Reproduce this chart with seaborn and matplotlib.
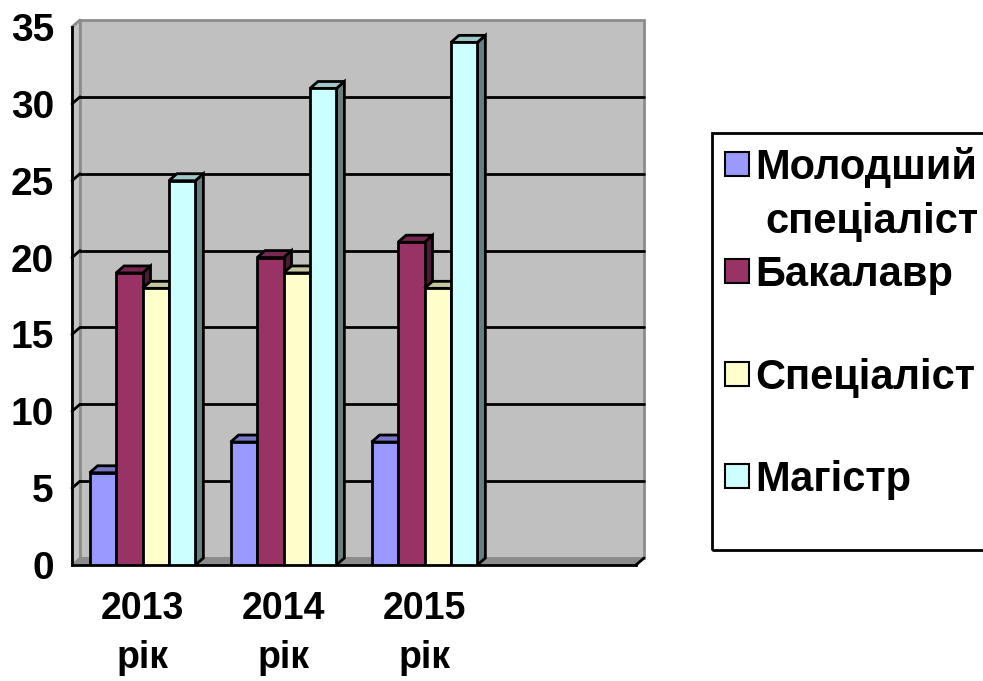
import pandas as pd
import matplotlib
matplotlib.use('Agg')
import matplotlib.pyplot as plt
import seaborn as sns
from matplotlib.patches import Polygon, Rectangle
from matplotlib.colors import to_rgb

# ............................................................DATOS..................................................
anios = ['2013\nрік', '2014\nрік', '2015\nрік']
niveles = ['Молодший спеціаліст', 'Бакалавр', 'Спеціаліст', 'Магістр']
molodshyi = [6, 8, 8]
bakalavr = [19, 20, 21]
spetsialist = [18, 19, 18]
magistr = [25, 31, 34]
colores = ['#9999FF', '#993366', '#FFFFCC', '#CCFFFF']

filas = []
for nivel, valores in zip(niveles, [molodshyi, bakalavr, spetsialist, magistr]):
    for anio, v in zip(anios, valores):
        filas.append({'anio': anio, 'nivel': nivel, 'valor': v})
df = pd.DataFrame(filas)

# ............................................................ESTILO.................................................
sns.set_style('white')
plt.rcParams['font.family'] = ['Liberation Sans', 'DejaVu Sans']
plt.rcParams['font.weight'] = 'bold'
plt.rcParams['text.color'] = 'black'
plt.rcParams['xtick.color'] = 'black'
plt.rcParams['ytick.color'] = 'black'
plt.rcParams['xtick.labelcolor'] = 'black'
plt.rcParams['ytick.labelcolor'] = 'black'

W, H = 983, 681
fig = plt.figure(figsize=(W / 100, H / 100), dpi=100)
ax = fig.add_axes([72 / W, 116 / H, 564 / W, 538 / H])

sns.barplot(data=df, x='anio', y='valor', hue='nivel', order=anios, hue_order=niveles,
            palette=colores, saturation=1, width=0.75, edgecolor='black', linewidth=2,
            legend=False, ax=ax)
barras = list(ax.patches)

ax.set_xlim(-0.5, 3.5)
ax.set_ylim(0, 35)

# profundidad 3D en unidades de datos (8 px a la derecha, 7 px arriba)
bb = ax.get_window_extent()
dx = 8 / (bb.width / 4)
dy = 7 / (bb.height / 35)

# pared del fondo, pared lateral y suelo
ax.add_patch(Rectangle((-0.5 + dx, dy), 4, 35, facecolor='#C0C0C0', edgecolor='#8C8C8C',
                       lw=2, zorder=0.2, clip_on=False))
ax.add_patch(Polygon([(-0.5, 0), (-0.5 + dx, dy), (-0.5 + dx, 35 + dy), (-0.5, 35)],
                     facecolor='#C4C4C4', edgecolor='#8C8C8C', lw=1.5, zorder=0.3, clip_on=False))
ax.add_patch(Polygon([(-0.5, 0), (3.5, 0), (3.5 + dx, dy), (-0.5 + dx, dy)],
                     facecolor='#8C8C8C', edgecolor='#8C8C8C', lw=1, zorder=0.3, clip_on=False))
for v in range(5, 35, 5):
    ax.plot([-0.5 + dx, 3.5 + dx], [v + dy, v + dy], color='black', lw=2, zorder=1, clip_on=False)
    ax.plot([-0.5, -0.5 + dx], [v, v + dy], color='black', lw=2, zorder=1, clip_on=False)
ax.plot([-0.5, -0.5 + dx], [35, 35 + dy], color='#8C8C8C', lw=2, zorder=1, clip_on=False)
ax.plot([3.5, 3.5 + dx], [0, dy], color='black', lw=2, zorder=1, clip_on=False)


def oscurecer(c, f):
    r, g, b = to_rgb(c)
    return (r * f, g * f, b * f)


# caras superiores y laterales de las barras
for i, p in enumerate(sorted(barras, key=lambda b: b.get_x())):
    x0, w, h = p.get_x(), p.get_width(), p.get_height()
    c = p.get_facecolor()
    tapa = Polygon([(x0, h), (x0 + w, h), (x0 + w + dx, h + dy), (x0 + dx, h + dy)],
                   facecolor=oscurecer(c, 0.78), edgecolor='black', lw=2, zorder=3 + 2 * i)
    lado = Polygon([(x0 + w, 0), (x0 + w + dx, dy), (x0 + w + dx, h + dy), (x0 + w, h)],
                   facecolor=oscurecer(c, 0.5), edgecolor='black', lw=2, zorder=3 + 2 * i)
    ax.add_patch(lado)
    ax.add_patch(tapa)
    p.set_zorder(4 + 2 * i)

# ............................................................EJES...................................................
sns.despine(ax=ax)
for s in ['left', 'bottom']:
    ax.spines[s].set_linewidth(2)
    ax.spines[s].set_color('black')

ax.set_yticks(range(0, 36, 5))
ax.tick_params(axis='y', length=10, width=2, pad=3, labelsize=28, color='black')
ax.set_xticks([0, 1, 2])
ax.set_xticklabels(anios)
ax.set_xticks([-0.5, 0.5, 1.5, 2.5, 3.5], minor=True)
ax.tick_params(axis='x', which='major', length=0, pad=19, labelsize=27)
ax.tick_params(axis='x', which='minor', length=10, width=2, color='black')
for t in ax.get_xticklabels():
    t.set_linespacing(1.45)
    t.set_fontweight('bold')
for t in ax.get_yticklabels():
    t.set_fontweight('bold')
ax.set_xlabel('')
ax.set_ylabel('')

# ............................................................LEYENDA................................................
def fx(x):
    return x / W


def fy(y):
    return 1 - y / H


fig.patches.append(Rectangle((fx(712), fy(550)), 300 / W, 417 / H, transform=fig.transFigure,
                             fill=False, edgecolor='black', lw=2))
centros = [164, 271, 374, 476]
for nivel, color, cy in zip(niveles, colores, centros):
    fig.patches.append(Rectangle((fx(725), fy(cy + 12)), 24 / W, 24 / H, transform=fig.transFigure,
                                 facecolor=color, edgecolor='black', lw=1.5))
    partes = nivel.split(' ')
    fig.text(fx(755), fy(cy + 15), partes[0], fontsize=30, fontweight='bold', va='baseline')
    if len(partes) > 1:
        fig.text(fx(765), fy(cy + 69), partes[1], fontsize=30, fontweight='bold', va='baseline')

fig.savefig('out.png', dpi=100)
